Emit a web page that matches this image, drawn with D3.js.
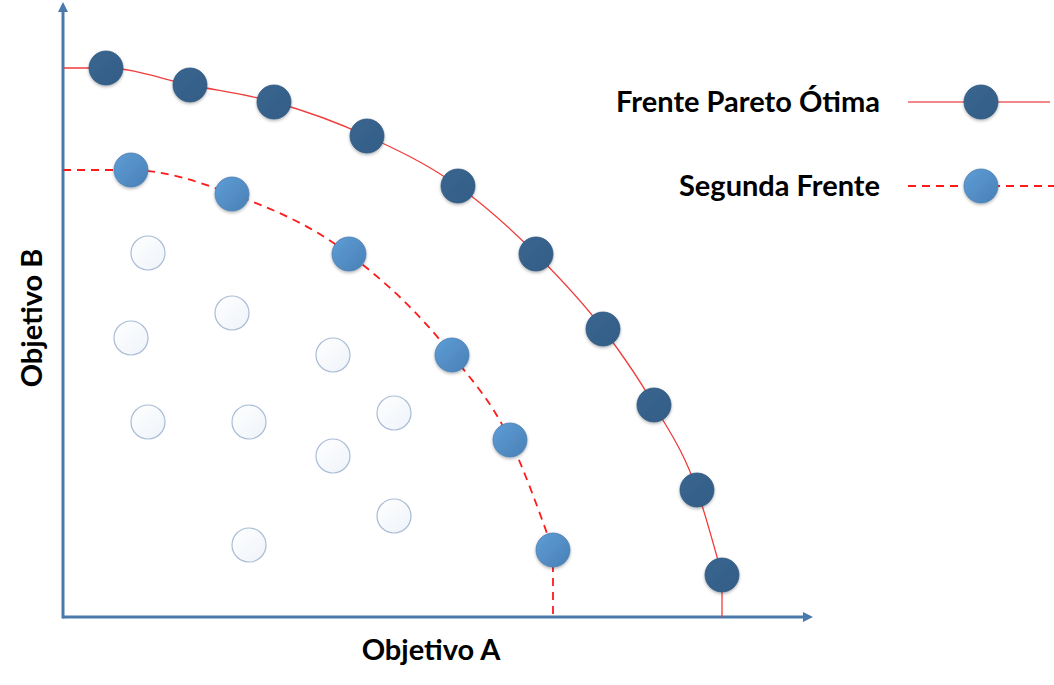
<!DOCTYPE html>
<html>
<head>
<meta charset="utf-8">
<script src="https://cdn.jsdelivr.net/npm/d3@7"></script>
<style>
  body { margin: 0; background: #fff; }
  svg { display: block; }
</style>
</head>
<body>
<svg id="chart" width="1054" height="685"></svg>
<script>
// objective values (abstract units)
const paretoX = [8.6, 25.4, 42.2, 60.8, 79, 94.6, 108, 118.2, 126.8, 131.8];
const paretoY = [109.8, 106.4, 103, 96.2, 86.2, 72.6, 57.6, 42.4, 25.4, 8.4];
const secondX = [13.6, 33.8, 57.2, 77.8, 89.4, 98];
const secondY = [89.4, 84.6, 72.6, 52.4, 35.4, 13.4];
const otherX = [17, 33.8, 13.6, 54, 17, 37.2, 66.2, 54, 66.2, 37.2];
const otherY = [72.8, 60.8, 55.8, 52.4, 39, 39, 40.8, 32.2, 20.2, 14.4];
const seriesNames = ["Frente Pareto Ótima", "Segunda Frente"];
const axisNames = ["Objetivo A", "Objetivo B"];

const svg = d3.select("#chart");
const x = d3.scaleLinear().domain([0, 150]).range([63, 813]);
const y = d3.scaleLinear().domain([0, 122]).range([617, 7]);
const R = 17;
const axisColor = "#4a7aab";

const defs = svg.append("defs");
let g1 = defs.append("linearGradient").attr("id", "gDark").attr("x1", 0).attr("y1", 0).attr("x2", 1).attr("y2", 1);
g1.append("stop").attr("offset", "0%").attr("stop-color", "#3a6690");
g1.append("stop").attr("offset", "100%").attr("stop-color", "#325d86");
let g2 = defs.append("linearGradient").attr("id", "gLight").attr("x1", 0).attr("y1", 0).attr("x2", 1).attr("y2", 1);
g2.append("stop").attr("offset", "0%").attr("stop-color", "#5f9dd6");
g2.append("stop").attr("offset", "100%").attr("stop-color", "#4880b6");
let g3 = defs.append("linearGradient").attr("id", "gEmpty").attr("x1", 0).attr("y1", 0).attr("x2", 1).attr("y2", 1);
g3.append("stop").attr("offset", "0%").attr("stop-color", "#ffffff");
g3.append("stop").attr("offset", "100%").attr("stop-color", "#eef3f9");
let sh = defs.append("filter").attr("id", "shadow").attr("x", "-30%").attr("y", "-30%").attr("width", "160%").attr("height", "160%");
sh.append("feDropShadow").attr("dx", 0).attr("dy", 1.5).attr("stdDeviation", 1.5)
  .attr("flood-color", "#000").attr("flood-opacity", 0.3);

// axes with arrow heads
svg.append("line").attr("x1", x(0)).attr("y1", y(0)).attr("x2", 806).attr("y2", y(0))
  .attr("stroke", axisColor).attr("stroke-width", 3);
svg.append("path").attr("d", `M813,${y(0)} L803,${y(0) - 5} L803,${y(0) + 5} Z`).attr("fill", axisColor);
svg.append("line").attr("x1", x(0)).attr("y1", y(0) + 1.5).attr("x2", x(0)).attr("y2", 10)
  .attr("stroke", axisColor).attr("stroke-width", 3);
svg.append("path").attr("d", `M${x(0)},2 L${x(0) - 5},12 L${x(0) + 5},12 Z`).attr("fill", axisColor);

// front lines
const line = d3.line().x(d => x(d[0])).y(d => y(d[1])).curve(d3.curveMonotoneX);
function frontPath(xs, ys) {
  const pts = xs.map((v, i) => [v, ys[i]]);
  return [[0, ys[0]]].concat(pts);
}
const paretoPts = frontPath(paretoX, paretoY);
const secondPts = frontPath(secondX, secondY);

svg.append("path").attr("d", line(paretoPts)).attr("fill", "none")
  .attr("stroke", "#f03c3c").attr("stroke-width", 1.3);
svg.append("line").attr("x1", x(paretoX[9])).attr("y1", y(paretoY[9])).attr("x2", x(paretoX[9])).attr("y2", y(0))
  .attr("stroke", "#f03c3c").attr("stroke-width", 1.3);

svg.append("path").attr("d", line(secondPts)).attr("fill", "none")
  .attr("stroke", "#ff1a1a").attr("stroke-width", 1.8).attr("stroke-dasharray", "8,6");
svg.append("line").attr("x1", x(secondX[5])).attr("y1", y(secondY[5])).attr("x2", x(secondX[5])).attr("y2", y(0))
  .attr("stroke", "#ff1a1a").attr("stroke-width", 1.8).attr("stroke-dasharray", "8,6");

// dominated points
svg.selectAll(".other").data(otherX).enter().append("circle")
  .attr("class", "other")
  .attr("cx", d => x(d)).attr("cy", (d, i) => y(otherY[i])).attr("r", R)
  .attr("fill", "url(#gEmpty)").attr("stroke", "#a9bcd6").attr("stroke-width", 1.2);

svg.selectAll(".second").data(secondX).enter().append("circle")
  .attr("class", "second")
  .attr("cx", d => x(d)).attr("cy", (d, i) => y(secondY[i])).attr("r", R)
  .attr("fill", "url(#gLight)").attr("stroke", "#4a7fb2").attr("stroke-width", 0.8)
  .attr("filter", "url(#shadow)");

svg.selectAll(".pareto").data(paretoX).enter().append("circle")
  .attr("class", "pareto")
  .attr("cx", d => x(d)).attr("cy", (d, i) => y(paretoY[i])).attr("r", R)
  .attr("fill", "url(#gDark)").attr("stroke", "#2f5880").attr("stroke-width", 0.8)
  .attr("filter", "url(#shadow)");

// axis titles
const font = "Lato, 'Open Sans', sans-serif";
svg.append("text").attr("x", 431).attr("y", 660).attr("text-anchor", "middle")
  .attr("font-family", font).attr("font-weight", "bold").attr("font-size", 29)
  .attr("fill", "#000").text(axisNames[0]);
svg.append("text").attr("transform", "translate(42,318) rotate(-90)").attr("text-anchor", "middle")
  .attr("font-family", font).attr("font-weight", "bold").attr("font-size", 29)
  .attr("fill", "#000").text(axisNames[1]);

// legend
const legend = svg.append("g");
const legendY = [102, 186];
legend.selectAll("text").data(seriesNames).enter().append("text")
  .attr("x", 880).attr("y", (d, i) => legendY[i] + 10).attr("text-anchor", "end")
  .attr("font-family", font).attr("font-weight", "bold").attr("font-size", 29)
  .attr("fill", "#000").text(d => d);
legend.append("line").attr("x1", 908).attr("x2", 1050).attr("y1", legendY[0]).attr("y2", legendY[0])
  .attr("stroke", "#f06060").attr("stroke-width", 1.3);
legend.append("line").attr("x1", 908).attr("x2", 1054).attr("y1", legendY[1]).attr("y2", legendY[1])
  .attr("stroke", "#ff1a1a").attr("stroke-width", 1.8).attr("stroke-dasharray", "8,6");
legend.append("circle").attr("cx", 981).attr("cy", legendY[0]).attr("r", R)
  .attr("fill", "url(#gDark)").attr("stroke", "#2f5880").attr("stroke-width", 0.8).attr("filter", "url(#shadow)");
legend.append("circle").attr("cx", 981).attr("cy", legendY[1]).attr("r", R)
  .attr("fill", "url(#gLight)").attr("stroke", "#4a7fb2").attr("stroke-width", 0.8).attr("filter", "url(#shadow)");
</script>
</body>
</html>
